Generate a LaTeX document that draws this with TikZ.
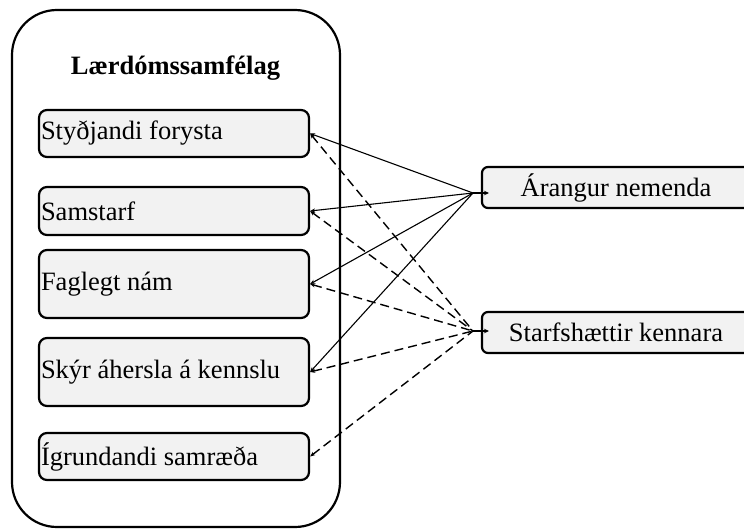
\documentclass[tikz,border=0pt]{standalone}
\usepackage{fontspec}
\setmainfont{Liberation Serif}
\usetikzlibrary{arrows.meta}
\definecolor{boxfill}{HTML}{F2F2F2}
\begin{document}
\begin{tikzpicture}[x=1pt,y=-1pt,
  every node/.style={font=\fontsize{26.5}{30}\selectfont},
  itembox/.style={draw, line width=2.2pt, rounded corners=8pt, fill=boxfill,
    minimum width=270pt, text width=266pt, inner xsep=2pt, inner ysep=0pt, align=flush left},
  outbox/.style={draw, line width=2.2pt, rounded corners=6pt, fill=boxfill,
    minimum width=268pt, minimum height=41pt, inner sep=0pt, align=center},
  conn/.style={line width=1.1pt, {Stealth[length=5pt,width=4pt]}-},
  dconn/.style={conn, line width=1.4pt, dash pattern=on 9pt off 5pt},
  hubarrow/.style={line width=1.1pt, -{Stealth[length=5pt,width=4.5pt]}}
]
\useasboundingbox (0,0) rectangle (744,530);
\draw[line width=2.2pt, rounded corners=45pt] (12,10) rectangle (340,527);
\node[font=\fontsize{26.5}{30}\selectfont\bfseries] (title) at (175.5,68) {Lærdómssamfélag};

\node[itembox, minimum height=47pt] (b1) at (174,133.5) {Styðjandi forysta};
\node[itembox, minimum height=48pt] (b2) at (174,211) {Samstarf};
\node[itembox, minimum height=68pt] (b3) at (174,284) {Faglegt nám};
\node[itembox, minimum height=68pt] (b4) at (174,372) {Skýr áhersla á kennslu};
\node[itembox, minimum height=47pt] (b5) at (174,456.5) {Ígrundandi samræða};

\node[outbox] (r1) at (616,187.5) {Árangur nemenda};
\node[outbox] (r2) at (616,332.5) {Starfshættir kennara};

\coordinate (h1) at (473,193);
\coordinate (h2) at (473,331);
\coordinate (t1) at (489,193);
\coordinate (t2) at (489,331);

\draw[conn] (b1.east) -- (h1);
\draw[conn] (b2.east) -- (h1);
\draw[conn] (b3.east) -- (h1);
\draw[conn] (b4.east) -- (h1);

\draw[dconn] (b1.east) -- (h2);
\draw[dconn] (b2.east) -- (h2);
\draw[dconn] (b3.east) -- (h2);
\draw[dconn] (b4.east) -- (h2);
\draw[dconn] (b5.east) -- (h2);

\draw[hubarrow] (h1) -- (t1);
\draw[hubarrow] (h2) -- (t2);
\end{tikzpicture}
\end{document}
